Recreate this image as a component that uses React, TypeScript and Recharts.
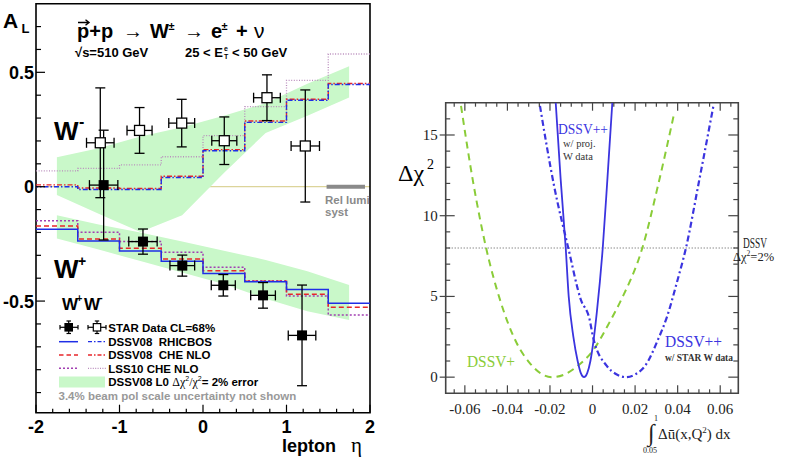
import React from "react";
import {
  Area,
  ComposedChart,
  ErrorBar,
  Line,
  ReferenceArea,
  ReferenceLine,
  Scatter,
  XAxis,
  YAxis,
} from "recharts";

const SANS = "'Liberation Sans', Arial, Helvetica, sans-serif";
const SERIF = "'Liberation Serif', 'Times New Roman', serif";

const BLUE = "#1f2ee6";
const RED = "#e8262a";
const PURPLE = "#a23fb2";
const PINK = "#b98cbc";
const BAND = "#c9f8c9";
const CURVE_BLUE = "#3b34df";
const CURVE_GREEN = "#8acc38";

// ---- A_L vs lepton eta ----
const etaEdges = [-2, -1.5, -1, -0.5, 0, 0.5, 1, 1.5, 2];

// theory histograms, one value per 0.5 bin
const rhicbosWm = [0.0, -0.012, -0.012, 0.04, 0.157, 0.281, 0.378, 0.447];
const cheWm = [0.008, -0.006, -0.008, 0.046, 0.162, 0.287, 0.382, 0.451];
const lssWm = [0.069, 0.08, 0.095, 0.131, 0.223, 0.35, 0.465, 0.58];
const rhicbosWp = [-0.186, -0.237, -0.281, -0.326, -0.379, -0.415, -0.449, -0.51];
const cheWp = [-0.172, -0.229, -0.269, -0.316, -0.367, -0.413, -0.47, -0.527];
const lssWp = [-0.149, -0.199, -0.24, -0.287, -0.352, -0.411, -0.478, -0.561];

// DSSV08 LO 2% error bands
const bandEta = [-1.75, -1.25, -0.75, -0.25, 0.25, 0.75, 1.25, 1.75];
const wmBandLo = [-0.036, -0.118, -0.198, -0.125, 0.06, 0.235, 0.31, 0.39];
const wmBandHi = [0.129, 0.168, 0.219, 0.26, 0.31, 0.365, 0.45, 0.527];
const wpBandLo = [-0.226, -0.275, -0.325, -0.375, -0.425, -0.49, -0.545, -0.583];
const wpBandHi = [-0.125, -0.165, -0.2, -0.24, -0.28, -0.32, -0.37, -0.43];

// STAR data
const wmEta = [-1.23, -0.76, -0.255, 0.255, 0.766, 1.225];
const wmAL = [0.192, 0.246, 0.278, 0.201, 0.389, 0.178];
const wmErr = [0.24, 0.1, 0.104, 0.104, 0.1, 0.245];
const wmEtaErr = [0.165, 0.15, 0.155, 0.15, 0.16, 0.17];

const wpEta = [-1.19, -0.719, -0.248, 0.243, 0.719, 1.186];
const wpAL = [0.007, -0.24, -0.345, -0.431, -0.475, -0.65];
const wpErr = [0.24, 0.055, 0.046, 0.047, 0.056, 0.22];
const wpEtaErr = [0.17, 0.17, 0.148, 0.144, 0.148, 0.165];

const relLumi = [1.48, 1.94];

const etaTicks = [
  -2, -1.8, -1.6, -1.4, -1.2, -1, -0.8, -0.6, -0.4, -0.2, 0, 0.2, 0.4, 0.6,
  0.8, 1, 1.2, 1.4, 1.6, 1.8, 2,
];
const alTicks = [
  -0.9, -0.8, -0.7, -0.6, -0.5, -0.4, -0.3, -0.2, -0.1, 0, 0.1, 0.2, 0.3, 0.4,
  0.5, 0.6, 0.7,
];

// ---- Delta chi^2 profiles ----
const dssvPlusX = [
  -0.0618, -0.056, -0.05, -0.0435, -0.0356, -0.0294, -0.024, -0.0192, -0.0135,
  -0.0074, 0.0004, 0.0082, 0.0137, 0.0234, 0.031, 0.0383,
];
const dssvPlusY = [16.8, 12.0, 8.0, 4.8, 2.1, 0.86, 0.2, 0, 0.15, 0.65, 1.69, 3.45, 4.85, 8.0, 12.0, 16.3];

const starX = [
  -0.0247, -0.018, -0.0114, -0.0055, -0.0015, 0.0004, 0.0067, 0.0112, 0.0157,
  0.0202, 0.0247, 0.031, 0.0349, 0.0395, 0.0439, 0.05, 0.0568,
];
const starY = [16.8, 11.8, 8.0, 4.8, 3.64, 2.4, 0.7, 0.18, 0, 0.18, 0.7, 2.4, 3.7, 5.8, 8.0, 12.1, 16.8];

const projX = [
  -0.0173, -0.015, -0.0126, -0.0112, -0.009, -0.007, -0.0055, -0.004, -0.0025,
  -0.001, 0.0004, 0.002, 0.0048, 0.007, 0.0093,
];
const projY = [17, 12.3, 8, 5.0, 2.5, 1.0, 0.25, 0, 0.25, 1.0, 2.2, 4.0, 8.0, 12.3, 17];

const dchiRef = 8;

const uTicks = [
  -0.065, -0.06, -0.055, -0.05, -0.045, -0.04, -0.035, -0.03, -0.025, -0.02,
  -0.015, -0.01, -0.005, 0, 0.005, 0.01, 0.015, 0.02, 0.025, 0.03, 0.035, 0.04,
  0.045, 0.05, 0.055, 0.06, 0.065,
];
const uLabels = [-0.06, -0.04, -0.02, 0, 0.02, 0.04, 0.06];
const chiTicks = [0, 1, 2, 3, 4, 5, 6, 7, 8, 9, 10, 11, 12, 13, 14, 15, 16];
const chiLabels = [0, 5, 10, 15];

const steps = (vals: number[]) =>
  etaEdges.map((eta, i) => ({ eta, v: vals[Math.min(i, vals.length - 1)] }));

const bandRows = bandEta.map((eta, i) => ({
  eta,
  wm: [wmBandLo[i], wmBandHi[i]],
  wp: [wpBandLo[i], wpBandHi[i]],
}));

const points = (eta: number[], al: number[], err: number[], etaErr: number[]) =>
  eta.map((e, i) => ({ eta: e, v: al[i], dv: err[i], de: etaErr[i] }));

const curve = (xs: number[], ys: number[]) => xs.map((x, i) => ({ x, y: ys[i] }));

const zeroLine = [
  { eta: -2, v: 0 },
  { eta: 2, v: 0 },
];

// plot frames (chart-local pixels)
const R_W = 292.6;
const R_H = 290.6;

const near = (a: number, b: number) => Math.abs(a - b) < 1e-6;

function EtaTick({ x, y, payload }: any) {
  const v = payload.value as number;
  const major = near(v, Math.round(v));
  return (
    <g>
      <line x1={x} x2={x} y1={y} y2={y - (major ? 8 : 4)} stroke="#000" strokeWidth={1.2} />
      {major && (
        <text x={x} y={y + 20} textAnchor="middle" fontFamily={SANS} fontWeight="bold" fontSize={18} fill="#000">
          {v}
        </text>
      )}
    </g>
  );
}

function ALTick({ x, y, payload }: any) {
  const v = payload.value as number;
  const major = near(v * 2, Math.round(v * 2));
  return (
    <g>
      <line x1={x} x2={x + (major ? 9 : 5)} y1={y} y2={y} stroke="#000" strokeWidth={1.2} />
      {major && (
        <text x={x - 2} y={y + 6.5} textAnchor="end" fontFamily={SANS} fontWeight="bold" fontSize={18} fill="#000">
          {v}
        </text>
      )}
    </g>
  );
}

function UTick({ x, y, payload }: any) {
  const v = payload.value as number;
  const major = uLabels.some((l) => near(l, v));
  const len = major ? 8 : 4;
  return (
    <g stroke="#444" strokeWidth={1.2}>
      <line x1={x} x2={x} y1={y} y2={y - len} />
      <line x1={x} x2={x} y1={y - R_H} y2={y - R_H + len} />
      {major && (
        <text x={x} y={y + 20.5} textAnchor="middle" fontFamily={SERIF} fontSize={15} fill="#222" stroke="none">
          {near(v, 0) ? "0" : v}
        </text>
      )}
    </g>
  );
}

function ChiTick({ x, y, payload }: any) {
  const v = payload.value as number;
  const major = chiLabels.includes(v);
  return (
    <g stroke="#444" strokeWidth={1.2}>
      <line x1={major ? x - 6 : x} x2={x + (major ? 9 : 4.5)} y1={y} y2={y} />
      <line x1={x + R_W - (major ? 10 : 5)} x2={x + R_W} y1={y} y2={y} />
      {major && (
        <text x={x - 8} y={y + 5} textAnchor="end" fontFamily={SERIF} fontSize={15} fill="#222" stroke="none">
          {v}
        </text>
      )}
    </g>
  );
}

const filledSquare = (p: any) => (
  <rect x={p.cx - 5} y={p.cy - 5} width={10} height={10} fill="#000" />
);
const openSquare = (p: any) => (
  <rect x={p.cx - 5} y={p.cy - 5} width={10} height={10} fill="#fff" stroke="#000" strokeWidth={1.3} />
);

function AsymmetryPanel() {
  return (
    <ComposedChart width={390} height={464} data={bandRows} margin={{ top: 3.7, right: 20, bottom: 0, left: 0 }}>
      <XAxis
        type="number"
        dataKey="eta"
        domain={[-2, 2]}
        allowDataOverflow
        ticks={etaTicks}
        interval={0}
        tick={<EtaTick />}
        tickLine={false}
        axisLine={false}
        tickSize={0}
        tickMargin={0}
        height={51.3}
      />
      <YAxis
        type="number"
        dataKey="v"
        domain={[-0.988, 0.8]}
        allowDataOverflow
        ticks={alTicks}
        interval={0}
        tick={<ALTick />}
        tickLine={false}
        axisLine={false}
        tickSize={0}
        tickMargin={0}
        width={36}
      />
      {/* zero line sits underneath the error bands */}
      <Line data={zeroLine} dataKey="v" stroke="#dcd49a" strokeWidth={1.3} dot={false} isAnimationActive={false} zIndex={50} />
      <Area dataKey="wm" type="linear" fill={BAND} fillOpacity={1} stroke="none" isAnimationActive={false} zIndex={100} />
      <Area dataKey="wp" type="linear" fill={BAND} fillOpacity={1} stroke="none" isAnimationActive={false} zIndex={100} />
      <ReferenceLine
        segment={[
          { x: relLumi[0], y: 0 },
          { x: relLumi[1], y: 0 },
        ]}
        stroke="#8a8a8a"
        strokeWidth={4}
      />

      <Line data={steps(lssWm)} dataKey="v" type="stepAfter" stroke={PINK} strokeWidth={1.3} strokeDasharray="1 1.6" dot={false} isAnimationActive={false} />
      <Line data={steps(cheWm)} dataKey="v" type="stepAfter" stroke={RED} strokeWidth={1.4} strokeDasharray="5 2 1.5 2" dot={false} isAnimationActive={false} />
      <Line data={steps(rhicbosWm)} dataKey="v" type="stepAfter" stroke={BLUE} strokeWidth={1.4} strokeDasharray="5 2 1.5 2" strokeDashoffset={3} dot={false} isAnimationActive={false} />

      <Line data={steps(lssWp)} dataKey="v" type="stepAfter" stroke={PURPLE} strokeWidth={1.5} strokeDasharray="2 2" dot={false} isAnimationActive={false} />
      <Line data={steps(cheWp)} dataKey="v" type="stepAfter" stroke={RED} strokeWidth={1.5} strokeDasharray="5 3" dot={false} isAnimationActive={false} />
      <Line data={steps(rhicbosWp)} dataKey="v" type="stepAfter" stroke={BLUE} strokeWidth={1.5} dot={false} isAnimationActive={false} />

      <Scatter data={points(wmEta, wmAL, wmErr, wmEtaErr)} dataKey="v" shape={openSquare} isAnimationActive={false}>
        <ErrorBar dataKey="dv" direction="y" width={5} stroke="#000" strokeWidth={1.3} />
        <ErrorBar dataKey="de" direction="x" width={5} stroke="#000" strokeWidth={1.3} />
      </Scatter>
      <Scatter data={points(wpEta, wpAL, wpErr, wpEtaErr)} dataKey="v" shape={filledSquare} isAnimationActive={false}>
        <ErrorBar dataKey="dv" direction="y" width={5} stroke="#000" strokeWidth={1.3} />
        <ErrorBar dataKey="de" direction="x" width={5} stroke="#000" strokeWidth={1.3} />
      </Scatter>

      <ReferenceArea x1={-2} x2={2} y1={-0.988} y2={0.8} fill="none" fillOpacity={0} stroke="#000" strokeWidth={1.6} ifOverflow="visible" />
    </ComposedChart>
  );
}

function ChiSquarePanel() {
  return (
    <ComposedChart width={388} height={464} margin={{ top: 102.7, right: 49.7, bottom: 0, left: 0 }}>
      <XAxis
        type="number"
        dataKey="x"
        domain={[-0.069, 0.0685]}
        allowDataOverflow
        ticks={uTicks}
        interval={0}
        tick={<UTick />}
        tickLine={false}
        axisLine={false}
        tickSize={0}
        tickMargin={0}
        height={70.7}
      />
      <YAxis
        type="number"
        dataKey="y"
        domain={[-1, 17]}
        allowDataOverflow
        ticks={chiTicks}
        interval={0}
        tick={<ChiTick />}
        tickLine={false}
        axisLine={false}
        tickSize={0}
        tickMargin={0}
        width={45.7}
      />
      <ReferenceLine y={dchiRef} stroke="#555" strokeWidth={1} strokeDasharray="1 2" />
      <Line data={curve(dssvPlusX, dssvPlusY)} dataKey="y" type="monotone" stroke={CURVE_GREEN} strokeWidth={2} strokeDasharray="7 5" dot={false} isAnimationActive={false} />
      <Line data={curve(starX, starY)} dataKey="y" type="monotone" stroke={CURVE_BLUE} strokeWidth={2.2} strokeDasharray="6 3 2 3" dot={false} isAnimationActive={false} />
      <Line data={curve(projX, projY)} dataKey="y" type="monotone" stroke={CURVE_BLUE} strokeWidth={1.8} dot={false} isAnimationActive={false} />
      <ReferenceArea x1={-0.069} x2={0.0685} y1={-1} y2={17} fill="none" fillOpacity={0} stroke="#444" strokeWidth={1.6} ifOverflow="visible" />
    </ComposedChart>
  );
}

function Annotations() {
  const b = { fontFamily: SANS, fontWeight: "bold" as const };
  const legendX = 108.3;
  return (
    <svg width={788} height={464} style={{ position: "absolute", left: 0, top: 0, pointerEvents: "none" }}>
      {/* left panel */}
      <text x={3} y={27.5} {...b} fontSize={21}>A</text>
      <text x={21.5} y={33} {...b} fontSize={13}>L</text>

      <path d="M78 22.5 H88.5 M85.5 19.8 L89 22.5 L85.5 25.2" stroke="#000" strokeWidth={1.4} fill="none" />
      <text x={77} y={37.5} {...b} fontSize={20}>p+p</text>
      <text x={123} y={37.5} {...b} fontSize={20}>→</text>
      <text x={150} y={37.5} {...b} fontSize={20}>W</text>
      <text x={168.5} y={30} {...b} fontSize={11}>±</text>
      <text x={184} y={37.5} {...b} fontSize={20}>→</text>
      <text x={211} y={37.5} {...b} fontSize={20}>e</text>
      <text x={221.5} y={30} {...b} fontSize={11}>±</text>
      <text x={236} y={37.5} {...b} fontSize={20}>+</text>
      <text x={254} y={37.5} fontFamily={SANS} fontSize={21}>ν</text>

      <text x={75} y={56.5} {...b} fontSize={13}>√s=510 GeV</text>
      <text x={185} y={56.5} {...b} fontSize={13}>25 &lt; E</text>
      <text x={224} y={51} {...b} fontSize={7}>e</text>
      <text x={224} y={58.5} {...b} fontSize={7}>T</text>
      <text x={232} y={56.5} {...b} fontSize={13}>&lt; 50 GeV</text>

      <text x={54} y={140} {...b} fontSize={26}>W</text>
      <text x={79} y={127} {...b} fontSize={16}>-</text>
      <text x={54} y={278} {...b} fontSize={26}>W</text>
      <text x={78} y={266} {...b} fontSize={14}>+</text>
      <text x={62} y={310} {...b} fontSize={17}>W</text>
      <text x={76.5} y={302} {...b} fontSize={10}>+</text>
      <text x={84} y={310} {...b} fontSize={17}>W</text>
      <text x={99} y={301} {...b} fontSize={11}>-</text>

      <text x={325} y={203.5} {...b} fontSize={11.5} fill="#8a8a8a">Rel lumi</text>
      <text x={325} y={215.5} {...b} fontSize={11.5} fill="#8a8a8a">syst</text>

      {/* legend */}
      <g stroke="#000" strokeWidth={1.2}>
        <line x1={60} x2={78} y1={327.3} y2={327.3} />
        <line x1={60} x2={60} y1={325} y2={329.6} />
        <line x1={78} x2={78} y1={325} y2={329.6} />
        <line x1={68.7} x2={68.7} y1={321} y2={333.5} />
        <line x1={66.5} x2={71} y1={321} y2={321} />
        <line x1={66.5} x2={71} y1={333.5} y2={333.5} />
        <rect x={65} y={323.6} width={7.4} height={7.4} fill="#000" />
        <line x1={88} x2={106} y1={327.3} y2={327.3} />
        <line x1={88} x2={88} y1={325} y2={329.6} />
        <line x1={106} x2={106} y1={325} y2={329.6} />
        <line x1={97} x2={97} y1={321} y2={333.5} />
        <line x1={94.8} x2={99.2} y1={321} y2={321} />
        <line x1={94.8} x2={99.2} y1={333.5} y2={333.5} />
        <rect x={93.3} y={323.6} width={7.4} height={7.4} fill="#fff" />
      </g>
      <line x1={59} x2={78} y1={341.7} y2={341.7} stroke={BLUE} strokeWidth={1.5} />
      <line x1={88} x2={106} y1={341.7} y2={341.7} stroke={BLUE} strokeWidth={1.3} strokeDasharray="4 2 1.5 2" />
      <line x1={59} x2={78} y1={355} y2={355} stroke={RED} strokeWidth={1.5} strokeDasharray="4.5 3" />
      <line x1={88} x2={106} y1={355} y2={355} stroke={RED} strokeWidth={1.3} strokeDasharray="4 2 1.5 2" />
      <line x1={59} x2={78} y1={368.3} y2={368.3} stroke={PURPLE} strokeWidth={1.5} strokeDasharray="2 2" />
      <line x1={88} x2={106} y1={368.3} y2={368.3} stroke={PINK} strokeWidth={1.3} strokeDasharray="1 1.4" />
      <rect x={59} y={376.5} width={46} height={11} fill={BAND} />

      <text x={legendX} y={331.5} {...b} fontSize={11.5}>STAR Data CL=68%</text>
      <text x={legendX} y={346} {...b} fontSize={11.5} style={{ whiteSpace: "pre" }}>DSSV08  RHICBOS</text>
      <text x={legendX} y={359.3} {...b} fontSize={11.5} style={{ whiteSpace: "pre" }}>DSSV08  CHE NLO</text>
      <text x={legendX} y={372.6} {...b} fontSize={11.5}>LSS10 CHE NLO</text>
      <text x={legendX} y={386.3} {...b} fontSize={11.5}>
        DSSV08 L0 <tspan fontWeight="normal" fontFamily={SERIF} fontSize={12}>Δχ</tspan>
        <tspan fontWeight="normal" fontSize={7} dy={-5}>2</tspan>
        <tspan fontWeight="normal" fontFamily={SERIF} fontSize={12} dy={5}>/χ</tspan>
        <tspan fontWeight="normal" fontSize={7} dy={-5}>2</tspan>
        <tspan dy={5}>= 2% error</tspan>
      </text>
      <text x={58.5} y={400} {...b} fontSize={11.5} fill="#999">3.4% beam pol scale uncertainty not shown</text>

      <text x={282} y={451.5} {...b} fontSize={18}>lepton</text>
      <text x={351} y={451.5} fontFamily={SERIF} fontSize={21}>η</text>

      {/* right panel */}
      <text x={398} y={181} fontFamily={SERIF} fontSize={24}>Δχ</text>
      <text x={427} y={169} fontFamily={SERIF} fontSize={14}>2</text>

      <text x={558} y={133.5} fontFamily={SERIF} fontSize={15} fill={CURVE_BLUE} textLength={50} lengthAdjust="spacingAndGlyphs">DSSV++</text>
      <text x={563} y={146.5} fontFamily={SERIF} fontSize={10.5} fill="#333">w/ proj.</text>
      <text x={563} y={159.5} fontFamily={SERIF} fontSize={10.5} fill="#333">W data</text>

      <text x={743} y={247.5} fontFamily={SERIF} fontSize={14} fill="#222" textLength={24} lengthAdjust="spacingAndGlyphs">DSSV</text>
      <text x={733} y={261} fontFamily={SERIF} fontSize={12.5} fill="#222">
        Δχ<tspan fontSize={7.5} dy={-5}>2</tspan>
        <tspan dy={5}>=2%</tspan>
      </text>

      <text x={665} y={347} fontFamily={SERIF} fontSize={17} fill={CURVE_BLUE} textLength={57} lengthAdjust="spacingAndGlyphs">DSSV++</text>
      <text x={665} y={360.5} fontFamily={SERIF} fontWeight="bold" fontSize={10} fill="#333" textLength={68} lengthAdjust="spacingAndGlyphs">w/ STAR W data</text>
      <text x={467} y={367} fontFamily={SERIF} fontSize={17} fill={CURVE_GREEN} textLength={48} lengthAdjust="spacingAndGlyphs">DSSV+</text>

      <text x={648} y={441} fontFamily={SERIF} fontSize={24} fill="#222">∫</text>
      <text x={654} y={420.5} fontFamily={SERIF} fontSize={8} fill="#222">1</text>
      <text x={643} y={453} fontFamily={SERIF} fontSize={8} fill="#222">0.05</text>
      <text x={658} y={439} fontFamily={SERIF} fontSize={15} fill="#222">
        Δū(x,Q<tspan fontSize={9} dy={-6}>2</tspan>
        <tspan dy={6}>) dx</tspan>
      </text>
    </svg>
  );
}

export default function App() {
  return (
    <div style={{ position: "absolute", left: 0, top: 0, width: 788, height: 464, background: "#fff", overflow: "hidden" }}>
      <div style={{ position: "absolute", left: 0, top: 0 }}>
        <AsymmetryPanel />
      </div>
      <div style={{ position: "absolute", left: 400, top: 0 }}>
        <ChiSquarePanel />
      </div>
      <Annotations />
    </div>
  );
}
